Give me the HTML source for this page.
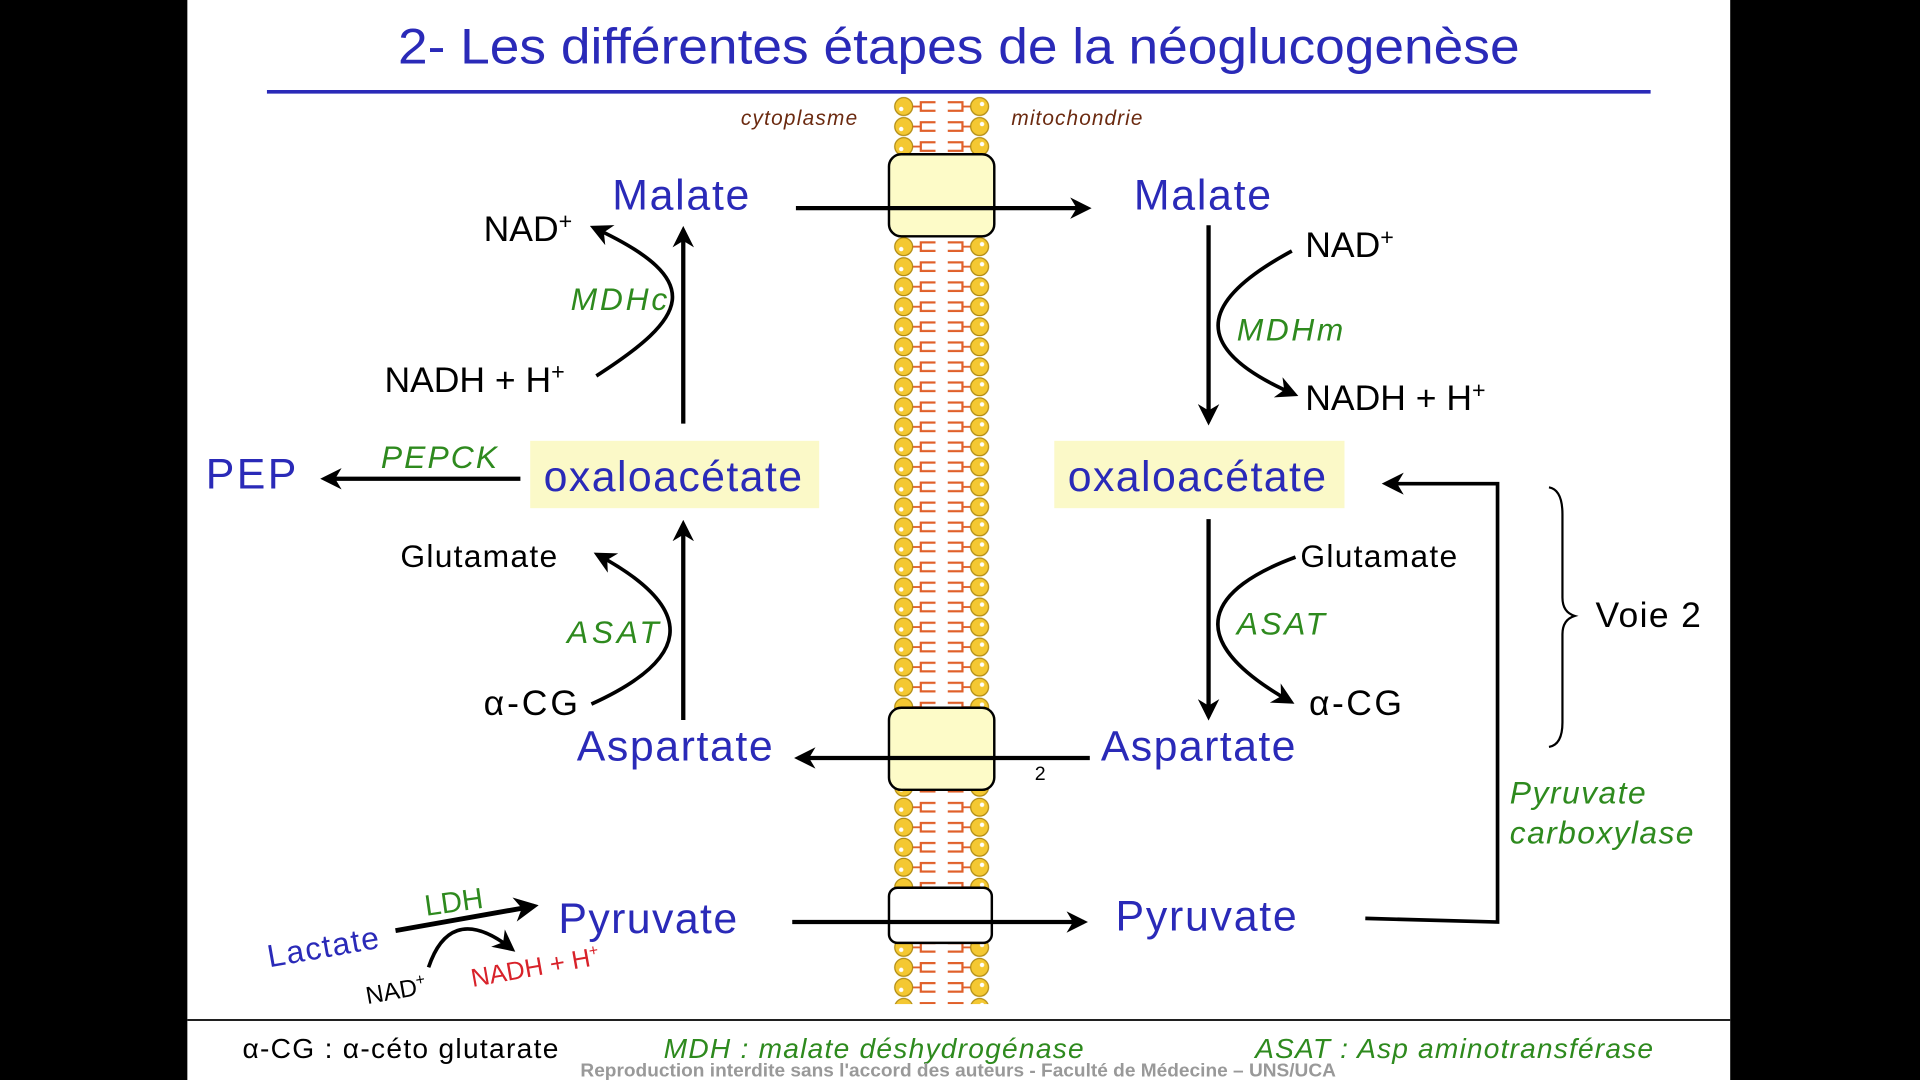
<!DOCTYPE html>
<html><head><meta charset="utf-8"><style>
html,body{margin:0;padding:0;background:#000;}
svg{display:block;}
text{font-family:"Liberation Sans",Arial,sans-serif;}
</style></head><body>
<svg width="1920" height="1080" viewBox="0 0 1568 882" preserveAspectRatio="none" xmlns="http://www.w3.org/2000/svg">
<defs>
<marker id="ah" viewBox="0 0 10 10" refX="8" refY="5" markerWidth="5" markerHeight="5" orient="auto-start-reverse">
<path d="M0,0 L10,5 L0,10 L3,5 z" fill="#000"/></marker>
<marker id="ahs" viewBox="0 0 10 10" refX="8" refY="5" markerWidth="6" markerHeight="6" orient="auto">
<path d="M0,0 L10,5 L0,10 L3,5 z" fill="#000"/></marker>
<pattern id="lip" x="728" y="79" width="82" height="16.35" patternUnits="userSpaceOnUse">
<line x1="17" y1="8" x2="24" y2="8" stroke="#e0602a" stroke-width="1.5"/>
<path d="M36,4.5 h-12 v7 h12" stroke="#e0602a" stroke-width="1.8" fill="none"/>
<path d="M46,4.5 h12 v7 h-12" stroke="#e0602a" stroke-width="1.8" fill="none"/>
<line x1="58" y1="8" x2="65" y2="8" stroke="#e0602a" stroke-width="1.5"/>
<circle cx="10" cy="8" r="7.3" fill="#f4c832" stroke="#b08a10" stroke-width="1"/>
<circle cx="72" cy="8" r="7.3" fill="#f4c832" stroke="#b08a10" stroke-width="1"/>
<circle cx="8" cy="10" r="1.8" fill="#fff"/>
<circle cx="74" cy="6" r="1.8" fill="#fff"/>
</pattern>
</defs>
<rect x="153" y="0" width="1260" height="882" fill="#fff"/>
<text x="325" y="52" font-size="41" fill="#2a2ab8" textLength="916" lengthAdjust="spacingAndGlyphs">2- Les différentes étapes de la néoglucogenèse</text>
<line x1="218" y1="75" x2="1348" y2="75" stroke="#2a2ab8" stroke-width="3"/>
<text x="605" y="102" font-size="17" font-style="italic" fill="#6b2a10" textLength="95">cytoplasme</text>
<text x="826" y="102" font-size="17" font-style="italic" fill="#6b2a10" textLength="107">mitochondrie</text>
<!-- membrane -->
<rect x="728" y="79" width="82" height="741" fill="url(#lip)"/>
<rect x="726" y="126" width="86" height="67" rx="10" fill="#fdfbc8" stroke="#000" stroke-width="2"/>
<rect x="726" y="578" width="86" height="67" rx="10" fill="#fdfbc8" stroke="#000" stroke-width="2"/>
<rect x="726" y="725" width="84" height="45" rx="7" fill="#fff" stroke="#000" stroke-width="2"/>
<!-- transport arrows -->
<line x1="650" y1="170" x2="888" y2="170" stroke="#000" stroke-width="3.5" marker-end="url(#ah)"/>
<line x1="890" y1="619" x2="652" y2="619" stroke="#000" stroke-width="3.5" marker-end="url(#ah)"/>
<line x1="647" y1="753" x2="885" y2="753" stroke="#000" stroke-width="3.5" marker-end="url(#ah)"/>
<text x="845" y="637" font-size="16">2</text>
<!-- labels blue -->
<g fill="#2a2ab8" font-size="35" lengthAdjust="spacingAndGlyphs">
<text x="500" y="171" textLength="112">Malate</text>
<text x="926" y="171" textLength="112">Malate</text>
<text x="168" y="399" textLength="74">PEP</text>
<text x="471" y="621" textLength="160">Aspartate</text>
<text x="899" y="621" textLength="159">Aspartate</text>
<text x="456" y="762" textLength="146">Pyruvate</text>
<text x="911" y="760" textLength="148">Pyruvate</text>
</g>
<rect x="433" y="360" width="236" height="55" fill="#fbf9c8"/>
<rect x="861" y="360" width="237" height="55" fill="#fbf9c8"/>
<text x="444" y="401" font-size="35" fill="#2a2ab8" textLength="211">oxaloacétate</text>
<text x="872" y="401" font-size="35" fill="#2a2ab8" textLength="211">oxaloacétate</text>
<!-- vertical arrows -->
<line x1="558" y1="346" x2="558" y2="188" stroke="#000" stroke-width="3.5" marker-end="url(#ah)"/>
<line x1="558" y1="588" x2="558" y2="428" stroke="#000" stroke-width="3.5" marker-end="url(#ah)"/>
<line x1="987" y1="184" x2="987" y2="344" stroke="#000" stroke-width="3.5" marker-end="url(#ah)"/>
<line x1="987" y1="424" x2="987" y2="585" stroke="#000" stroke-width="3.5" marker-end="url(#ah)"/>
<line x1="425" y1="391" x2="265" y2="391" stroke="#000" stroke-width="3.5" marker-end="url(#ah)"/>
<!-- curves -->
<g fill="none" stroke="#000" stroke-width="3">
<path d="M487,307 C560,260 580,230 485,186" marker-end="url(#ahs)"/>
<path d="M483,575 C560,540 575,500 488,453" marker-end="url(#ahs)"/>
<path d="M1055,205 C990,240 960,280 1057,322" marker-end="url(#ahs)"/>
<path d="M1058,455 C990,480 960,520 1054,573" marker-end="url(#ahs)"/>
</g>
<g font-size="29" fill="#000">
<text x="395" y="197">NAD<tspan font-size="19" dy="-10">+</tspan></text>
<text x="314" y="320">NADH + H<tspan font-size="19" dy="-10">+</tspan></text>
<text x="1066" y="210">NAD<tspan font-size="19" dy="-10">+</tspan></text>
<text x="1066" y="335">NADH + H<tspan font-size="19" dy="-10">+</tspan></text>
<text x="1062" y="463" font-size="26" textLength="128">Glutamate</text>
<text x="327" y="463" font-size="26" textLength="128">Glutamate</text>
<text x="395" y="584" textLength="77">α-CG</text>
<text x="1069" y="584" textLength="76">α-CG</text>
<text x="1303" y="512" textLength="86">Voie 2</text>
</g>
<g font-size="26" font-style="italic" fill="#2e8a1e">
<text x="466" y="253" textLength="79">MDHc</text>
<text x="1010" y="278" textLength="87">MDHm</text>
<text x="311" y="382" textLength="95">PEPCK</text>
<text x="463" y="525" textLength="75">ASAT</text>
<text x="1010" y="518" textLength="72">ASAT</text>
<text x="1233" y="656" textLength="111">Pyruvate</text>
<text x="1233" y="689" textLength="150">carboxylase</text>
</g>
<!-- pyruvate carboxylase path -->
<path d="M1115,750 L1223,753 L1223,395 L1132,395" fill="none" stroke="#000" stroke-width="3" marker-end="url(#ahs)"/>
<path d="M1265,398 Q1276,400 1276,420 L1276,488 Q1276,500 1286,503 Q1276,506 1276,518 L1276,590 Q1276,608 1265,610" fill="none" stroke="#000" stroke-width="1.8"/>
<!-- lactate -->
<text x="220" y="790" font-size="26" fill="#2a2ab8" transform="rotate(-10 220 790)" textLength="92">Lactate</text>
<text x="348" y="748" font-size="24" fill="#2e8a1e" transform="rotate(-8 348 748)">LDH</text>
<line x1="323" y1="760" x2="436" y2="740" stroke="#000" stroke-width="4" marker-end="url(#ah)"/>
<path d="M350,790 C360,760 380,745 418,775" fill="none" stroke="#000" stroke-width="3" marker-end="url(#ahs)"/>
<text x="300" y="820" font-size="20" transform="rotate(-10 300 820)">NAD<tspan font-size="13" dy="-8">+</tspan></text>
<text x="386" y="806" font-size="21" fill="#d8222a" transform="rotate(-10 386 806)">NADH + H<tspan font-size="13" dy="-8">+</tspan></text>
<!-- footer -->
<line x1="153" y1="833" x2="1413" y2="833" stroke="#000" stroke-width="1.5"/>
<text x="198" y="864" font-size="23" textLength="258">α-CG : α-céto glutarate</text>
<text x="542" y="864" font-size="23" font-style="italic" fill="#2e8a1e" textLength="343">MDH : malate déshydrogénase</text>
<text x="1025" y="864" font-size="23" font-style="italic" fill="#2e8a1e" textLength="325">ASAT : Asp aminotransférase</text>
<text x="474" y="879" font-size="15" fill="#999" font-weight="bold" textLength="617" lengthAdjust="spacingAndGlyphs">Reproduction interdite  sans l'accord des auteurs - Faculté de Médecine – UNS/UCA</text>
</svg>
</body></html>
